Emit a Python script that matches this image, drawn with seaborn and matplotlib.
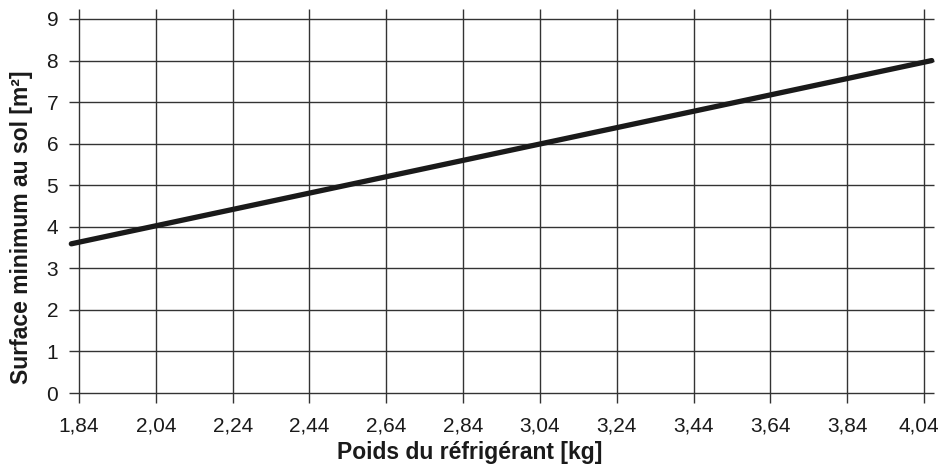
import matplotlib
matplotlib.use("Agg")
import matplotlib.pyplot as plt
import matplotlib.transforms as mtransforms
import seaborn as sns
import pandas as pd
import numpy as np

# ligne surface minimum / poids du réfrigérant
poids = [1.82, 4.06]
surface = [3.59, 8.0]
x_ticks = [1.84, 2.04, 2.24, 2.44, 2.64, 2.84, 3.04, 3.24, 3.44, 3.64, 3.84, 4.04]
y_ticks = [0, 1, 2, 3, 4, 5, 6, 7, 8, 9]

sns.set_style("white")
plt.rcParams['font.family'] = ['Liberation Sans', 'DejaVu Sans']

fig = plt.figure(figsize=(9.42, 4.65), dpi=100)
ax = fig.add_axes([79 / 942, 72 / 465, 845 / 942, 374 / 465])

df = pd.DataFrame({"poids": poids, "surface": surface})
sns.lineplot(data=df, x="poids", y="surface", ax=ax, color="#1a1a1a",
             linewidth=3.8, solid_capstyle="round", clip_on=False, zorder=5)

ax.set_xlim(1.84, 4.04)
ax.set_ylim(0, 9)
ax.set_xticks(x_ticks)
ax.set_xticklabels([f"{v:.2f}".replace(".", ",") for v in x_ticks])
ax.set_yticks(y_ticks)

ax.grid(True, color="#333333", linewidth=1.0)
for gl in ax.get_xgridlines() + ax.get_ygridlines():
    gl.set_clip_on(False)
for s in ax.spines.values():
    s.set_visible(False)
ax.tick_params(axis="both", which="both", direction="out", length=7, width=1.0,
               color="#333333", labelsize=15, labelcolor="#1a1a1a",
               top=True, right=True, bottom=True, left=True,
               labeltop=False, labelright=False, pad=10)
ax.tick_params(axis="y", pad=8)

# dernier label un peu décalé vers la gauche
last = ax.get_xticklabels()[-1]
last.set_transform(last.get_transform() +
                   mtransforms.ScaledTranslation(-5 / 100, 0, fig.dpi_scale_trans))

ax.set_xlabel("Poids du réfrigérant [kg]", fontsize=16.5, fontweight="bold",
              color="#1a1a1a")
ax.set_ylabel("Surface minimum au sol [m²]", fontsize=16.5, fontweight="bold",
              color="#1a1a1a")
ax.xaxis.set_label_coords(470 / 942, 13 / 465, transform=fig.transFigure)
ax.xaxis.label.set_va("center")
ax.yaxis.set_label_coords(22 / 942, (465 - 227) / 465, transform=fig.transFigure)
ax.yaxis.label.set_va("center")

fig.savefig("out.png", dpi=100)
